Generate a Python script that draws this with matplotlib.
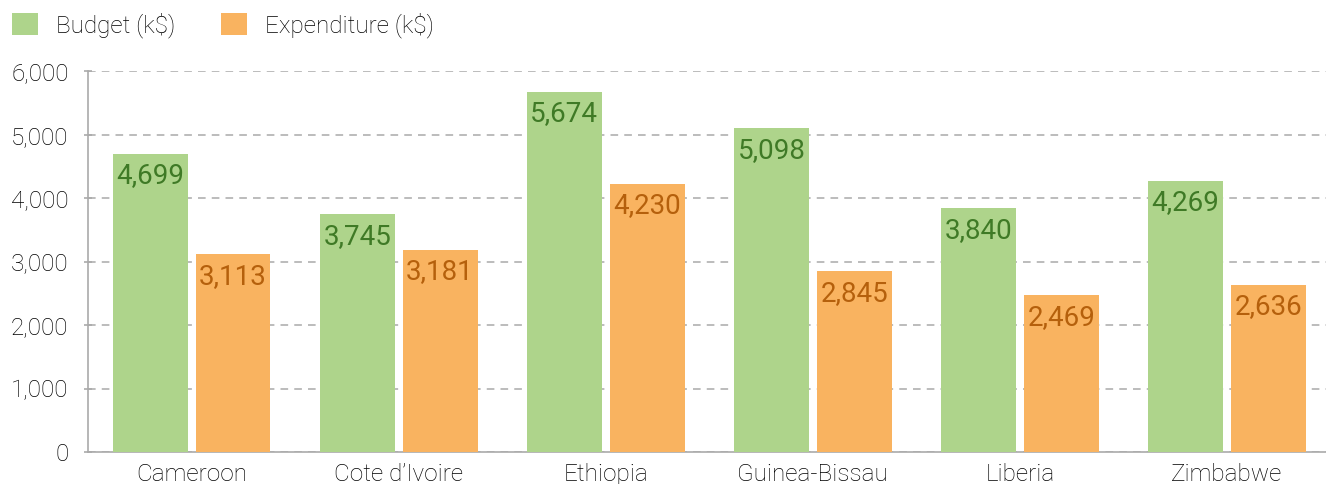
import matplotlib.pyplot as plt
import numpy as np

countries = ['Cameroon', 'Cote d’Ivoire', 'Ethiopia', 'Guinea-Bissau', 'Liberia', 'Zimbabwe']
budget = [4699, 3745, 5674, 5098, 3840, 4269]
expenditure = [3113, 3181, 4230, 2845, 2469, 2636]

plt.rcParams['font.family'] = ['Roboto', 'DejaVu Sans']

fig = plt.figure(figsize=(13.26, 4.84), dpi=100)
ax = fig.add_axes([0.0664, 0.066, 0.937, 0.787])

x = np.arange(len(countries))
w = 0.362
b1 = ax.bar(x - 0.2, budget, w, color='#aed48b', label='Budget (k$)', zorder=3)
b2 = ax.bar(x + 0.2, expenditure, w, color='#f9b360', label='Expenditure (k$)', zorder=3)

for bars, col in ((b1, '#3f7a26'), (b2, '#b5600c')):
    for r in bars:
        ax.annotate(f'{int(r.get_height()):,}', (r.get_x() + r.get_width() / 2, r.get_height()),
                    xytext=(0, -6), textcoords='offset points', ha='center', va='top',
                    fontsize=20, color=col, zorder=4)

ax.set_xlim(-0.5, 5.5)
ax.set_ylim(0, 6000)
ax.set_yticks(range(0, 6001, 1000))
ax.set_yticklabels([f'{v:,}' for v in range(0, 6001, 1000)], fontsize=17.5, color='#000000',
                   fontweight='light')
ax.set_xticks(x)
ax.set_xticklabels(countries, fontsize=17.5, color='#000000', fontweight='light')
ax.tick_params(axis='x', length=0, pad=8)
ax.tick_params(axis='y', direction='inout', length=6, width=1.2, color='#aaaaaa', pad=11)
ax.yaxis.grid(True, color='#aaaaaa', linestyle=(0, (5, 4)), linewidth=1.1, zorder=0)
for s in ('top', 'right'):
    ax.spines[s].set_visible(False)
for s in ('left', 'bottom'):
    ax.spines[s].set_color('#aaaaaa')
    ax.spines[s].set_linewidth(1.2)

leg = fig.legend(loc='upper left', bbox_to_anchor=(0.0, 1.0), ncol=2, frameon=False, fontsize=17.5,
                 handlelength=1.05, handleheight=1.05, handletextpad=0.75, columnspacing=1.9,
                 borderaxespad=0.2, borderpad=0.3)
for t in leg.get_texts():
    t.set_fontweight('light')
    t.set_color('#000000')

plt.savefig('out.png', dpi=100)
